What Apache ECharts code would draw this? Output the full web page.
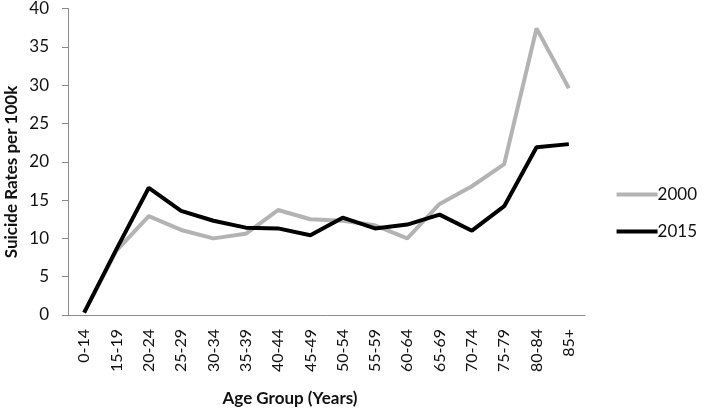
<!DOCTYPE html>
<html>
<head>
<meta charset="utf-8">
<script src="https://cdn.jsdelivr.net/npm/echarts@6/dist/echarts.min.js"></script>
<style>
  html, body { margin: 0; padding: 0; background: #fff; }
  #chart { width: 706px; height: 411px; }
</style>
</head>
<body>
<div id="chart"></div>
<script>
const ageGroups = ["0-14", "15-19", "20-24", "25-29", "30-34", "35-39", "40-44", "45-49",
  "50-54", "55-59", "60-64", "65-69", "70-74", "75-79", "80-84", "85+"];
const rates2000 = [0.3, 8.4, 12.9, 11.1, 10.0, 10.6, 13.7, 12.5, 12.3, 11.7, 10.0, 14.5, 16.8, 19.7, 37.4, 29.6];
const rates2015 = [0.3, 8.6, 16.6, 13.6, 12.3, 11.4, 11.3, 10.4, 12.7, 11.3, 11.8, 13.1, 11.0, 14.2, 21.9, 22.3];

const font = "Lato, 'Open Sans', sans-serif";

var myChart = echarts.init(document.getElementById("chart"));
var option = {
  animation: false,
  grid: { left: 68, right: 121, top: 8.5, bottom: 96 },
  legend: {
    orient: "vertical",
    right: 4,
    top: 181,
    icon: "rect",
    itemWidth: 41,
    itemHeight: 4,
    itemGap: 20,
    textStyle: { fontFamily: font, fontSize: 17, color: "#111", padding: [0, 0, 0, -5] },
    data: ["2000", "2015"]
  },
  xAxis: {
    type: "category",
    data: ageGroups,
    boundaryGap: true,
    axisLine: { lineStyle: { color: "#8c8c8c", width: 1 } },
    axisTick: { show: false },
    axisLabel: { rotate: 90, margin: 14, fontFamily: font, fontSize: 16, color: "#111", interval: 0 }
  },
  yAxis: {
    type: "value",
    min: 0,
    max: 40,
    interval: 5,
    splitLine: { show: false },
    axisLine: { show: true, lineStyle: { color: "#8c8c8c", width: 1 } },
    axisTick: { show: true, length: 6, lineStyle: { color: "#8c8c8c" } },
    axisLabel: { margin: 19, fontFamily: font, fontSize: 17, color: "#111" }
  },
  graphic: [
    {
      type: "text",
      x: 12, y: 172, rotation: Math.PI / 2,
      style: { text: "Suicide Rates per 100k", font: "bold 17px " + font, fill: "#111", align: "center", verticalAlign: "middle" }
    },
    {
      type: "text",
      x: 290, y: 399,
      style: { text: "Age Group (Years)", font: "bold 17px " + font, fill: "#111", align: "center", verticalAlign: "middle" }
    }
  ],
  series: [
    {
      name: "2000",
      type: "line",
      data: rates2000,
      symbol: "none",
      color: "#b3b3b3",
      lineStyle: { width: 4, color: "#b3b3b3" }
    },
    {
      name: "2015",
      type: "line",
      data: rates2015,
      symbol: "none",
      color: "#000",
      lineStyle: { width: 4, color: "#000" }
    }
  ]
};
option && myChart.setOption(option);
</script>
</body>
</html>
